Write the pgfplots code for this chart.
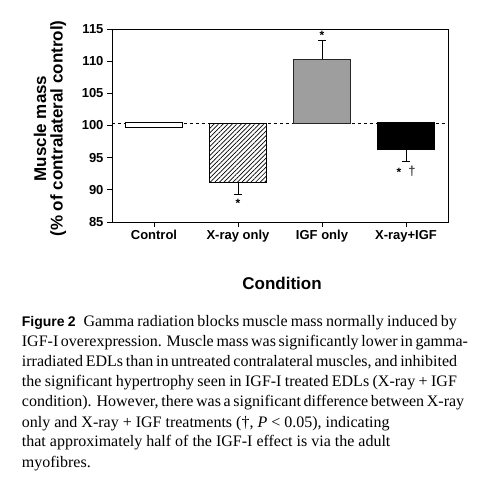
\documentclass[border=0pt]{standalone}
\usepackage{fontspec}
\setmainfont{Liberation Serif}
\setsansfont{Liberation Sans}
\usepackage{pgfplots}
\pgfplotsset{compat=1.18}
\usetikzlibrary{patterns.meta}
\pgfplotsset{errb/.style={black, line width=0.8pt, only marks, mark=text, text mark={}, forget plot,
  error bars/.cd, y dir=#1, y explicit, error mark=none,
  error bar style={black, line width=0.8pt}},
  cap/.style={black, line width=0.8pt, forget plot}}
\begin{document}
\begin{tikzpicture}
\path[use as bounding box] (0,0) rectangle (478pt,483pt);
\begin{axis}[
  at={(112pt,261pt)}, anchor=south west,
  scale only axis, width=336pt, height=193pt,
  xmin=-0.5, xmax=3.5, ymin=85, ymax=115,
  xtick={0,1,2,3}, xticklabels={Control,X-ray only,IGF only,X-ray+IGF},
  ytick={85,90,...,115},
  tick align=outside, tick pos=left,
  major tick length=5pt,
  axis line style={line width=0.9pt},
  tick style={black, line width=0.9pt},
  ticklabel style={font=\sffamily\bfseries\fontsize{13}{13}\selectfont},
  /pgf/number format/assume math mode=true,
  xlabel={Condition},
  ylabel={Muscle mass\\(\% of contralateral control)},
  ylabel style={align=center, font=\sffamily\bfseries\fontsize{17}{16.5}\selectfont, at={(axis description cs:-0.1845,0.4845)}, anchor=center},
  xlabel style={font=\sffamily\bfseries\fontsize{17}{17}\selectfont, at={(axis description cs:0.506,-0.352)}, anchor=base},
  clip=false,
]
% reference line
\addplot[black, line width=0.8pt, dash pattern=on 3pt off 3pt] coordinates {(-0.5,100.3) (3.5,100.3)};
% bars
\addplot[draw=black, line width=0.8pt, fill=white] coordinates {(-0.34,99.7) (-0.34,100.5) (0.34,100.5) (0.34,99.7)} -- cycle;
\addplot[draw=black, line width=0.8pt, fill=white, pattern={Lines[angle=45,distance=3.2pt,line width=0.7pt]}] coordinates {(0.66,100.3) (0.66,91.2) (1.34,91.2) (1.34,100.3)} -- cycle;
\addplot[draw=black!85, line width=0.8pt, fill=black!38] coordinates {(1.66,100.3) (1.66,110.35) (2.34,110.35) (2.34,100.3)} -- cycle;
\addplot[draw=black, line width=0.8pt, fill=black] coordinates {(2.66,100.5) (2.66,96.35) (3.34,96.35) (3.34,100.5)} -- cycle;
% error bars
\addplot[errb=minus] coordinates {(1,91.2) +- (0,1.9) (3,96.35) +- (0,1.95)};
\addplot[errb=plus] coordinates {(2,110.35) +- (0,2.95)};
% error bar caps
\addplot[cap] coordinates {(0.958,89.3) (1.042,89.3)};
\addplot[cap] coordinates {(1.958,113.3) (2.042,113.3)};
\addplot[cap] coordinates {(2.958,94.4) (3.042,94.4)};
% significance marks
\node[anchor=base, inner sep=0pt, font=\sffamily\bfseries\fontsize{12}{12}\selectfont] at (axis cs:1,87.2) {*};
\node[anchor=base, inner sep=0pt, font=\sffamily\bfseries\fontsize{12}{12}\selectfont] at (axis cs:2,113.3) {*};
\node[anchor=base, inner sep=0pt, font=\sffamily\bfseries\fontsize{12}{12}\selectfont] at (axis cs:2.917,92.0) {*};
\node[anchor=base, inner sep=0pt, font=\sffamily\bfseries\fontsize{13}{13}\selectfont, text=black!75] at (axis cs:3.07,92.2) {†};
\end{axis}
\begin{scope}[every node/.style={anchor=base west, inner sep=0pt, font=\fontsize{16}{20}\selectfont}]
\node at (21.7pt,156pt) {\makebox[435pt][s]{{\sffamily\bfseries\fontsize{14}{14}\selectfont Figure 2}\hspace{8pt}Gamma radiation blocks muscle mass normally induced by}};
\node at (21.7pt,136pt) {\makebox[435pt][s]{IGF-I overexpression. Muscle mass was significantly lower in gamma-}};
\node at (21.7pt,116pt) {\makebox[435pt][s]{irradiated EDLs than in untreated contralateral muscles, and inhibited}};
\node at (21.7pt,96pt) {\makebox[435pt][s]{the significant hypertrophy seen in IGF-I treated EDLs (X-ray + IGF}};
\node at (21.7pt,76pt) {\makebox[435pt][s]{condition). However, there was a significant difference between X-ray}};
\node at (21.7pt,56pt) {only and X-ray + IGF treatments (†, \textit{P} < 0.05), indicating};
\node at (21.7pt,36pt) {that approximately half of the IGF-I effect is via the adult};
\node at (21.7pt,16pt) {myofibres.};
\end{scope}
\end{tikzpicture}
\end{document}
